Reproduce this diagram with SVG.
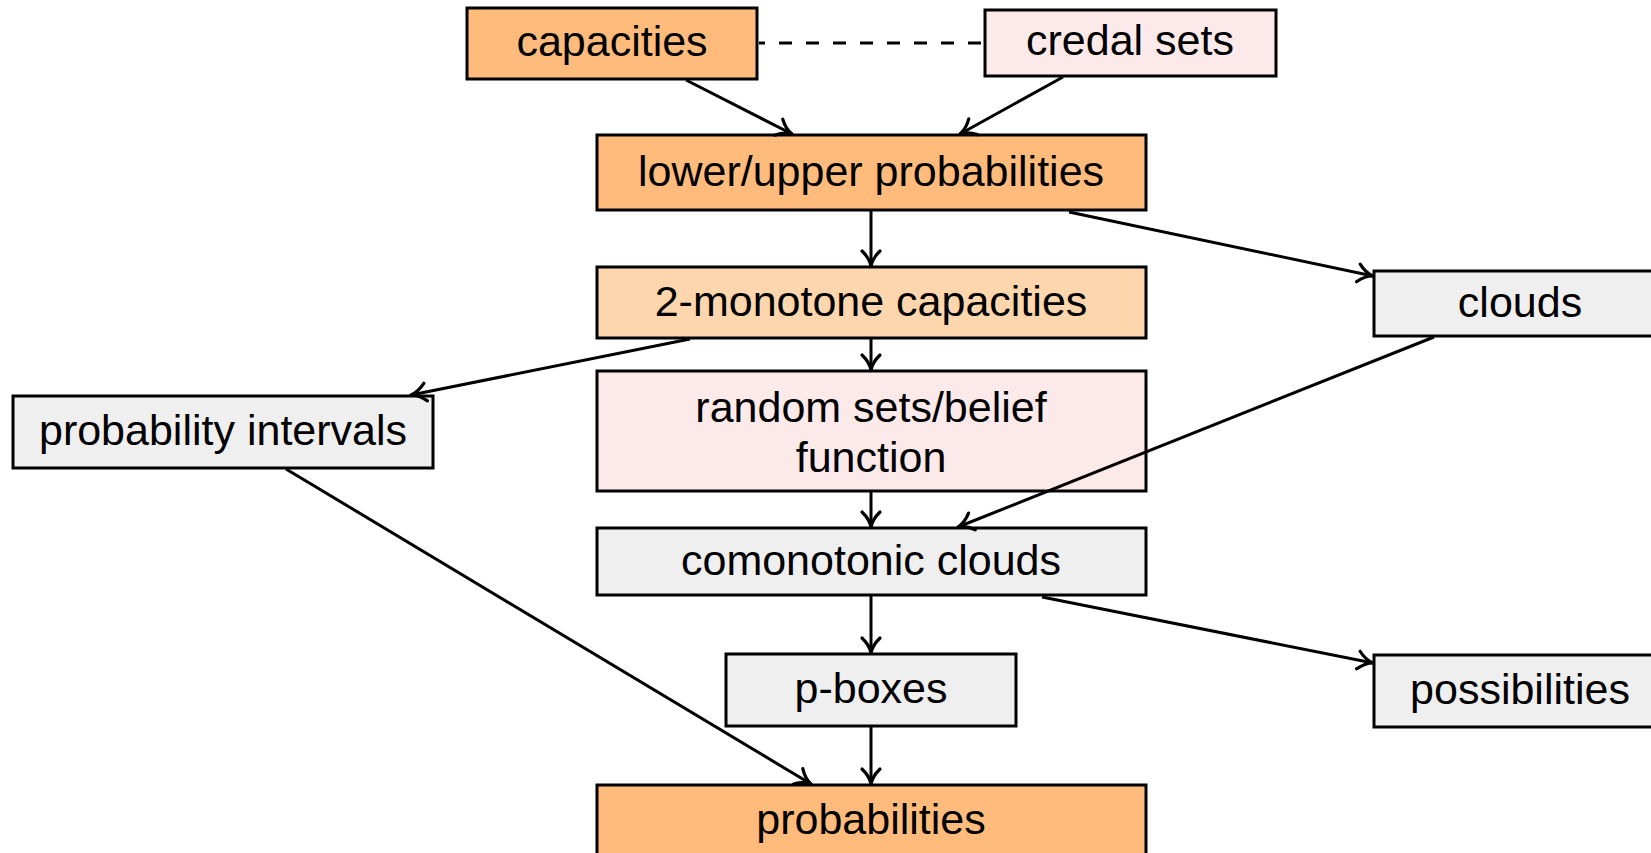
<svg xmlns="http://www.w3.org/2000/svg" width="1651" height="853" viewBox="0 0 1651 853">
<style>
.box{stroke:#000;stroke-width:3}
.o{fill:#FFBB7C}
.lo{fill:#FDD6AD}
.pk{fill:#FCE9E9}
.g{fill:#EFEFEF}
text{font-family:"Liberation Sans",Arial,sans-serif;font-size:43px;fill:#000;text-anchor:middle}
.c{stroke:#000;stroke-width:3;fill:none}
</style>
<defs>
<marker id="arr" markerUnits="userSpaceOnUse" viewBox="-20 -13 22 26" markerWidth="22" markerHeight="26" refX="0" refY="0" orient="auto">
<path d="M-15,-9 C-10,-3.8 -4,-0.8 0,0 C-4,0.8 -10,3.8 -15,9" fill="none" stroke="#000" stroke-width="3.2" stroke-linecap="round" stroke-linejoin="round"/>
</marker>
</defs>
<g id="capacities"><rect class="box o" x="467" y="8" width="290" height="71"/><text x="612" y="56">capacities</text></g>
<g id="credal-sets"><rect class="box pk" x="985" y="10" width="291" height="66"/><text x="1130" y="55">credal sets</text></g>
<g id="lower-upper"><rect class="box o" x="597" y="135" width="549" height="75"/><text x="871" y="186">lower/upper probabilities</text></g>
<g id="two-monotone"><rect class="box lo" x="597" y="267" width="549" height="71"/><text x="871" y="316">2-monotone capacities</text></g>
<g id="random-sets"><rect class="box pk" x="597" y="371" width="549" height="120"/><text x="871" y="422">random sets/belief</text><text x="871" y="472">function</text></g>
<g id="comonotonic"><rect class="box g" x="597" y="528" width="549" height="67"/><text x="871" y="575">comonotonic clouds</text></g>
<g id="p-boxes"><rect class="box g" x="726" y="654" width="290" height="72"/><text x="871" y="703">p-boxes</text></g>
<g id="probabilities"><rect class="box o" x="597" y="785" width="549" height="80"/><text x="871" y="834">probabilities</text></g>
<g id="probability-intervals"><rect class="box g" x="13" y="396" width="420" height="72"/><text x="223" y="445">probability intervals</text></g>
<g id="clouds"><rect class="box g" x="1374" y="271" width="292" height="65"/><text x="1520" y="317">clouds</text></g>
<g id="possibilities"><rect class="box g" x="1374" y="655" width="292" height="72"/><text x="1520" y="704">possibilities</text></g>
<g id="connectors">
<line class="c" x1="759" y1="43" x2="984" y2="43" stroke-dasharray="13 14" stroke-dashoffset="7"/>
<line class="c" x1="686" y1="80" x2="792" y2="134" marker-end="url(#arr)"/>
<line class="c" x1="1063" y1="77" x2="960" y2="134" marker-end="url(#arr)"/>
<line class="c" x1="871" y1="211" x2="871" y2="266" marker-end="url(#arr)"/>
<line class="c" x1="1069" y1="212" x2="1373" y2="276" marker-end="url(#arr)"/>
<line class="c" x1="690" y1="339" x2="411" y2="395" marker-end="url(#arr)"/>
<line class="c" x1="871" y1="339" x2="871" y2="370" marker-end="url(#arr)"/>
<line class="c" x1="871" y1="492" x2="871" y2="527" marker-end="url(#arr)"/>
<line class="c" x1="1434" y1="337" x2="958" y2="527" marker-end="url(#arr)"/>
<line class="c" x1="871" y1="596" x2="871" y2="653" marker-end="url(#arr)"/>
<line class="c" x1="1042" y1="597" x2="1373" y2="663" marker-end="url(#arr)"/>
<line class="c" x1="871" y1="727" x2="871" y2="784" marker-end="url(#arr)"/>
<line class="c" x1="286" y1="469" x2="811" y2="784" marker-end="url(#arr)"/>
</g>
</svg>
